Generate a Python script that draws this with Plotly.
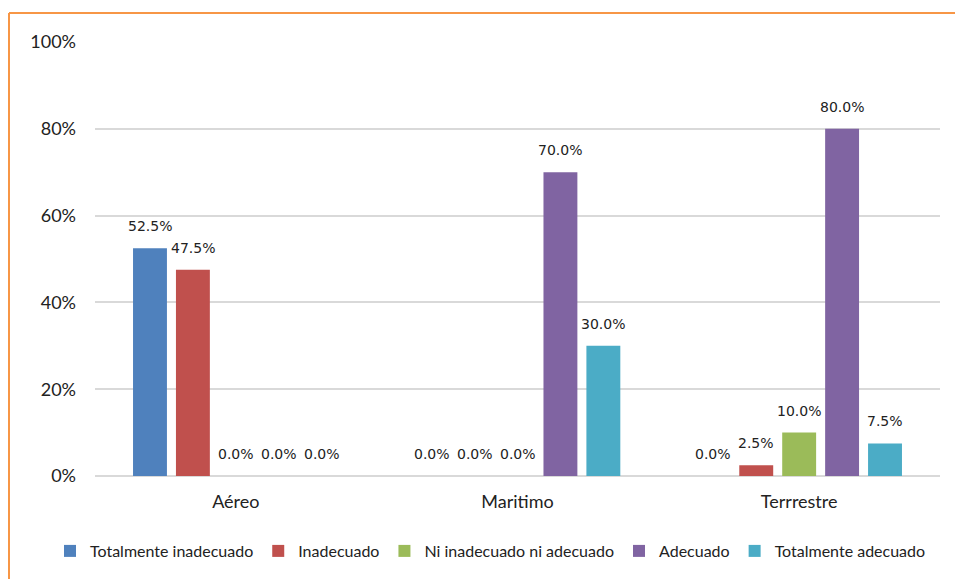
import plotly.graph_objects as go

categories = ["Aéreo", "Maritimo", "Terrrestre"]
series_names = ["Totalmente inadecuado", "Inadecuado", "Ni inadecuado ni adecuado", "Adecuado", "Totalmente adecuado"]
series_values = [
    [0.525, 0.0, 0.0],
    [0.475, 0.0, 0.025],
    [0.0, 0.0, 0.10],
    [0.0, 0.70, 0.80],
    [0.0, 0.30, 0.075],
]
colors = ["#4F81BD", "#C0504D", "#9BBB59", "#8064A2", "#4BACC6"]
y_tickvals = [0, 0.2, 0.4, 0.6, 0.8, 1.0]
y_ticktext = ["0%", "20%", "40%", "60%", "80%", "100%"]

W, H = 955, 579
ML, MR, MT, MB = 95, 15, 42, 103
plot_w = W - ML - MR
plot_h = H - MT - MB

fig = go.Figure()
for name, vals, col in zip(series_names, series_values, colors):
    fig.add_trace(go.Bar(x=categories, y=vals, name=name, marker=dict(color=col, line=dict(width=0))))

# data labels
cat_w = plot_w / len(categories)
bargap = 0.238
slot = cat_w * (1 - bargap) / len(series_names)
n = len(series_names)
for i, vals in enumerate(series_values):
    off = (i - (n - 1) / 2) * slot
    for c, v in zip(categories, vals):
        fig.add_annotation(x=c, y=v, xref="x", yref="y", text=f"{v*100:.1f}%",
                           showarrow=False, xshift=off, yshift=22, yanchor="middle",
                           font=dict(family="DejaVu Sans", size=14, color="#222222"))

# orange border (left and top)
x_left = (9 - ML) / plot_w
y_top = (H - MB - 13) / plot_h
border = dict(color="#F79646", width=2)
fig.add_shape(type="line", xref="paper", yref="paper", x0=x_left, x1=1.2, y0=y_top, y1=y_top, line=border)
fig.add_shape(type="line", xref="paper", yref="paper", x0=x_left, x1=x_left, y0=y_top, y1=-0.3, line=border)

fig.update_layout(
    width=W, height=H,
    margin=dict(l=ML, r=MR, t=MT, b=MB, autoexpand=False),
    paper_bgcolor="white", plot_bgcolor="white",
    barmode="group", bargap=bargap, bargroupgap=0.21,
    font=dict(family="Lato", size=18, color="#222222"),
    showlegend=True,
    legend=dict(orientation="h", x=(50 - ML) / plot_w, xanchor="left", y=-(551 - (H - MB)) / plot_h, yanchor="middle",
                font=dict(family="Lato", size=16, color="#222222"), itemwidth=30, tracegroupgap=0),
    xaxis=dict(showgrid=False, showline=False, ticks="", ticklabelstandoff=13, automargin=False,
               tickfont=dict(family="Lato", size=18)),
    yaxis=dict(range=[0, 1.0], tickvals=y_tickvals, ticktext=y_ticktext, showgrid=True, automargin=False,
               gridcolor="#D9D9D9", gridwidth=1.5, zeroline=True, zerolinecolor="#D9D9D9", zerolinewidth=1.5,
               showline=False, ticks="", ticklabelstandoff=18, tickfont=dict(family="Lato", size=18)),
)

fig.write_html("out.html")
